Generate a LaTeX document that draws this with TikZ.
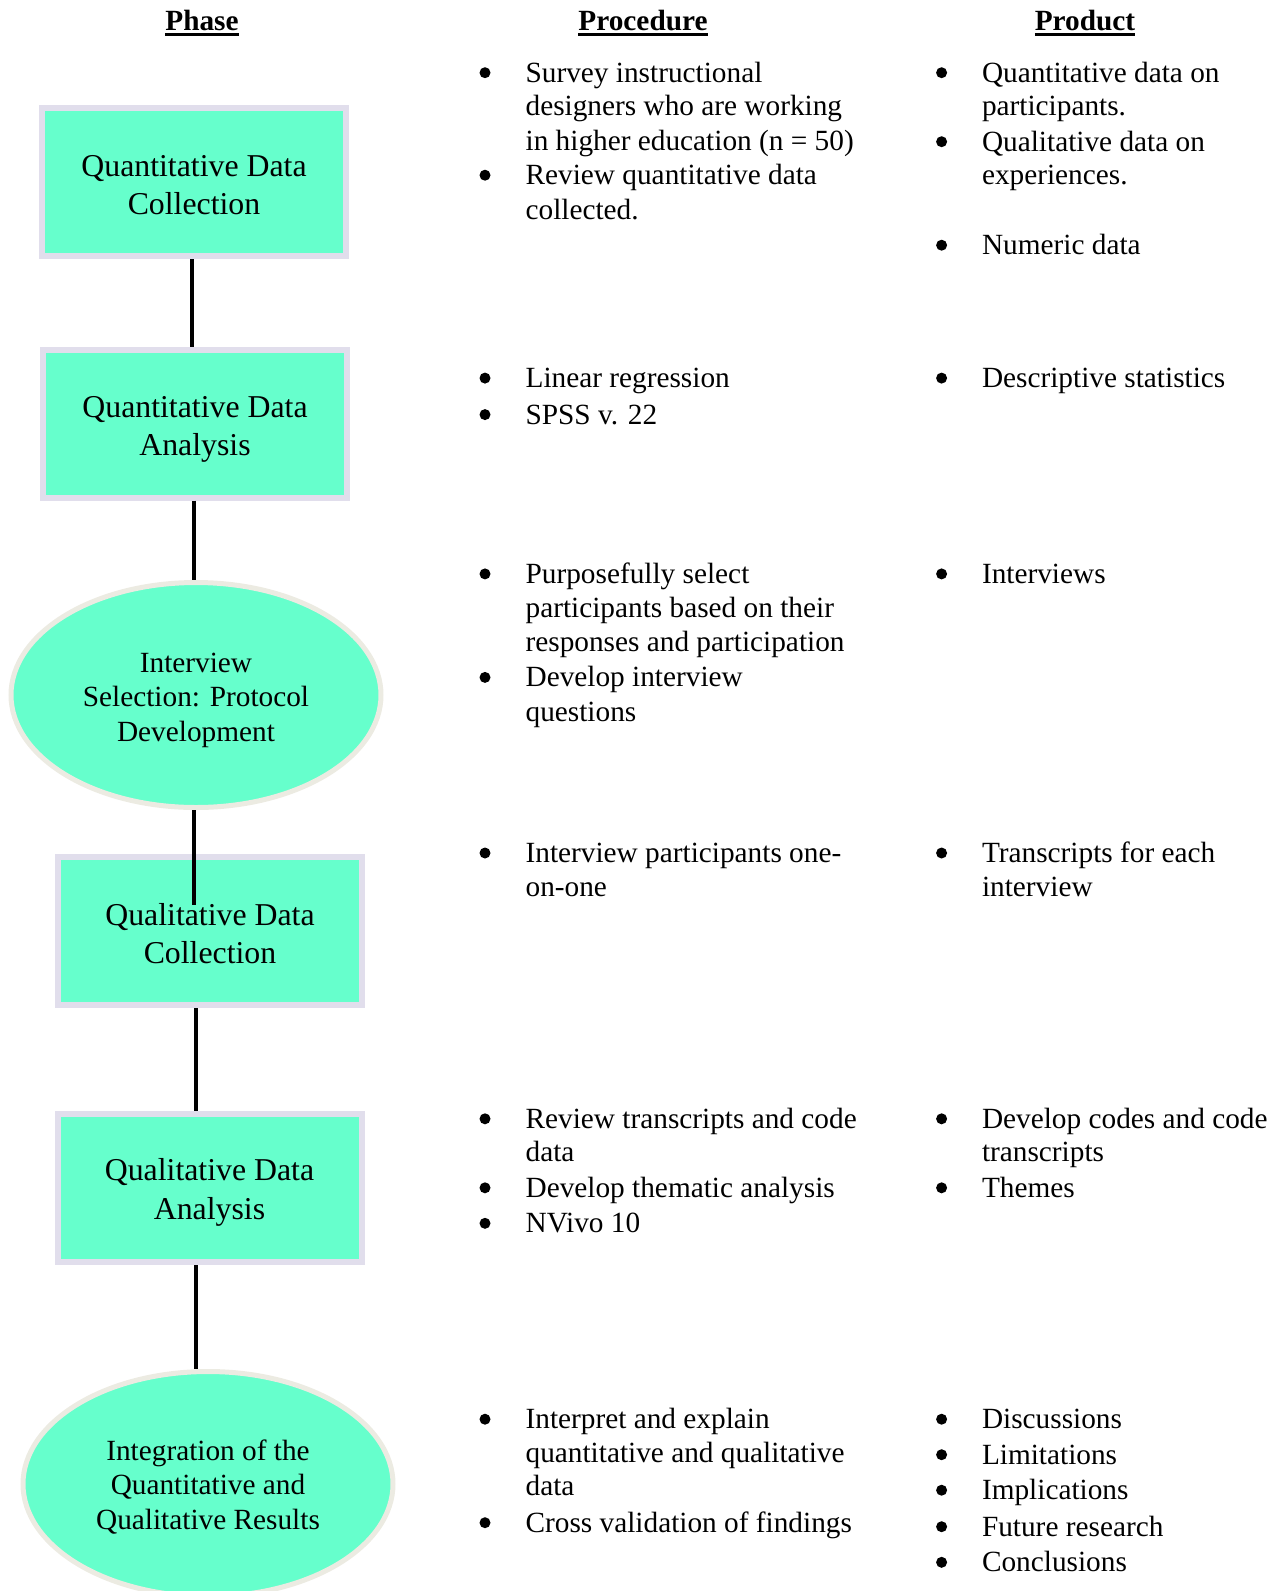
\documentclass[tikz,border=0pt]{standalone}
\usepackage{fontspec}
\setmainfont{Liberation Serif}
\usetikzlibrary{shapes.geometric}
\definecolor{mint}{RGB}{102,255,204}
\definecolor{lav}{RGB}{225,222,236}
\definecolor{beig}{RGB}{236,235,226}
\tikzset{
  lt/.style={inner sep=0pt,outer sep=0pt,font=\fontsize{29.3}{34.3}\selectfont},
  hd/.style={inner sep=0pt,outer sep=0pt,anchor=base,font=\fontsize{29.3}{34.3}\selectfont\bfseries},
  bul/.style={circle,fill=black,inner sep=0pt,minimum size=11pt},
  phbox/.style={draw=lav,fill=mint,line width=6pt,minimum width=304pt,minimum height=148pt,align=center,inner sep=0pt,font=\fontsize{31.8}{38.6}\selectfont},
  phell/.style={ellipse,draw=beig,fill=mint,line width=5pt,minimum width=370pt,minimum height=225pt,align=center,inner sep=0pt,font=\fontsize{29.3}{34.6}\selectfont},
  conn/.style={line width=3.5pt,black}
}
\newcommand\pline[4]{\node[lt,anchor=base west] (#1) at (#2,{#3+1}) {#4};}
\newcommand\pbul[3]{\node[bul] (#1) at (#2,{#3-8.5}) {};}
\newcommand\dn[1]{\rule{0pt}{#1pt}}
\begin{document}
\begin{tikzpicture}[x=1pt,y=-1pt]
\useasboundingbox (0,0) rectangle (1271,1591);
% headers
\node[hd] (hphase) at (202,30) {Phase};
\node[hd] (hproc) at (643,30) {Procedure};
\node[hd] (hprod) at (1085,30) {Product};
\foreach \h in {hphase,hproc,hprod}
  \draw[line width=2.8pt] ([yshift=-4.5pt]\h.base west) -- ([yshift=-4.5pt]\h.base east);
% phase shapes
\node[phbox] (b1) at (194,182) {\dn{27}Quantitative Data\\Collection};
\node[phbox] (b2) at (195,423.5) {\dn{33}Quantitative Data\\Analysis};
\node[phell] (e1) at (196,695) {\dn{30}Interview\\Selection: Protocol\\Development};
\node[phbox] (b3) at (210,931) {\dn{27}Qualitative Data\\Collection};
\node[phbox] (b4) at (209.5,1188) {\dn{31}Qualitative Data\\Analysis};
\node[phell] (e2) at (208,1484) {\dn{26}Integration of the\\Quantitative and\\Qualitative Results};
% connectors
\coordinate (x1) at (192,0);
\coordinate (x2) at (194,0);
\coordinate (x4) at (196,0);
\coordinate (c3end) at (194,905);
\draw[conn] (x1 |- b1.south) -- (x1 |- b2.north);
\draw[conn] (x2 |- b2.south) -- (x2 |- e1.north);
\draw[conn] (x2 |- e1.south) -- (c3end);
\draw[conn] (x4 |- b3.south) -- (x4 |- b4.north);
\draw[conn] (x4 |- b4.south) -- (x4 |- e2.north);
% procedure column
\pbul{pb1}{485}{81.2}\pline{p1a}{525.6}{81.2}{Survey instructional}
\pline{p1b}{525.6}{114.7}{designers who are working}
\pline{p1c}{525.6}{149.2}{in higher education (n = 50)}
\pbul{pb2}{485}{183.7}\pline{p2a}{525.6}{183.7}{Review quantitative data}
\pline{p2b}{525.6}{218.2}{collected.}
\pbul{pb3}{485}{386.6}\pline{p3a}{525.6}{386.6}{Linear regression}
\pbul{pb4}{485}{423.1}\pline{p4a}{525.6}{423.1}{SPSS v. 22}
\pbul{pb5}{485}{582.4}\pline{p5a}{525.6}{582.4}{Purposefully select}
\pline{p5b}{525.6}{616.9}{participants based on their}
\pline{p5c}{525.6}{650.4}{responses and participation}
\pbul{pb6}{485}{685.9}\pline{p6a}{525.6}{685.9}{Develop interview}
\pline{p6b}{525.6}{720.4}{questions}
\pbul{pb7}{485}{861.5}\pline{p7a}{525.6}{861.5}{Interview participants one-}
\pline{p7b}{525.6}{895.0}{on-one}
\pbul{pb8}{485}{1127.3}\pline{p8a}{525.6}{1127.3}{Review transcripts and code}
\pline{p8b}{525.6}{1160.8}{data}
\pbul{pb9}{485}{1196.3}\pline{p9a}{525.6}{1196.3}{Develop thematic analysis}
\pbul{pb10}{485}{1231.8}\pline{p10a}{525.6}{1231.8}{NVivo 10}
\pbul{pb11}{485}{1427.7}\pline{p11a}{525.6}{1427.7}{Interpret and explain}
\pline{p11b}{525.6}{1461.2}{quantitative and qualitative}
\pline{p11c}{525.6}{1494.7}{data}
\pbul{pb12}{485}{1531.2}\pline{p12a}{525.6}{1531.2}{Cross validation of findings}
% product column
\pbul{qb1}{941.6}{81.2}\pline{q1a}{982}{81.2}{Quantitative data on}
\pline{q1b}{982}{114.7}{participants.}
\pbul{qb2}{941.6}{150.2}\pline{q2a}{982}{150.2}{Qualitative data on}
\pline{q2b}{982}{183.7}{experiences.}
\pbul{qb3}{941.6}{253.7}\pline{q3a}{982}{253.7}{Numeric data}
\pbul{qb4}{941.6}{386.6}\pline{q4a}{982}{386.6}{Descriptive statistics}
\pbul{qb5}{941.6}{582.4}\pline{q5a}{982}{582.4}{Interviews}
\pbul{qb6}{941.6}{861.5}\pline{q6a}{982}{861.5}{Transcripts for each}
\pline{q6b}{982}{895.0}{interview}
\pbul{qb7}{941.6}{1127.3}\pline{q7a}{982}{1127.3}{Develop codes and code}
\pline{q7b}{982}{1160.8}{transcripts}
\pbul{qb8}{941.6}{1196.3}\pline{q8a}{982}{1196.3}{Themes}
\pbul{qb9}{941.6}{1427.7}\pline{q9a}{982}{1427.7}{Discussions}
\pbul{qb10}{941.6}{1463.2}\pline{q10a}{982}{1463.2}{Limitations}
\pbul{qb11}{941.6}{1498.7}\pline{q11a}{982}{1498.7}{Implications}
\pbul{qb12}{941.6}{1535.2}\pline{q12a}{982}{1535.2}{Future research}
\pbul{qb13}{941.6}{1570.8}\pline{q13a}{982}{1570.8}{Conclusions}
\end{tikzpicture}
\end{document}
